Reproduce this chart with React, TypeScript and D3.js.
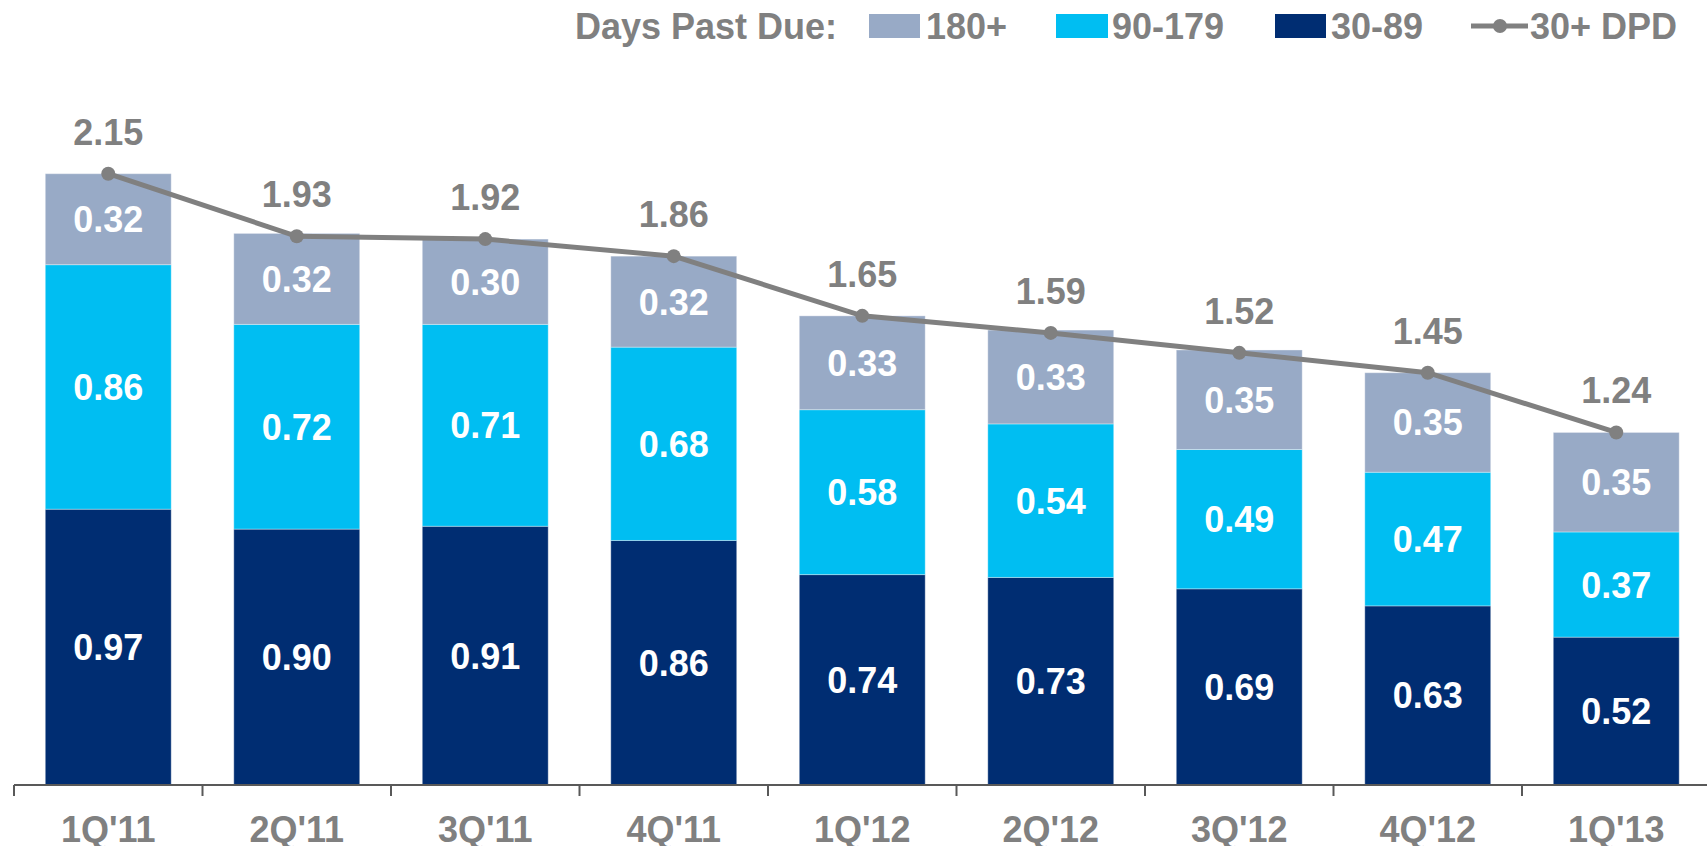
import React from "react";
import * as d3 from "d3";

const categories = ["1Q'11", "2Q'11", "3Q'11", "4Q'11", "1Q'12", "2Q'12", "3Q'12", "4Q'12", "1Q'13"];
const dpd30to89 = [0.97, 0.9, 0.91, 0.86, 0.74, 0.73, 0.69, 0.63, 0.52];
const dpd90to179 = [0.86, 0.72, 0.71, 0.68, 0.58, 0.54, 0.49, 0.47, 0.37];
const dpd180plus = [0.32, 0.32, 0.3, 0.32, 0.33, 0.33, 0.35, 0.35, 0.35];
const dpd30plus = [2.15, 1.93, 1.92, 1.86, 1.65, 1.59, 1.52, 1.45, 1.24];

const seriesKeys = ["30-89", "90-179", "180+"];
const seriesColors: Record<string, string> = {
  "30-89": "#002D72",
  "90-179": "#00BEF2",
  "180+": "#98AAC6",
};
const lineColor = "#808080";
const textGray = "#808080";
const FONT = "'Liberation Sans', Arial, sans-serif";

export default function App() {
  const W = 1707;
  const H = 846;
  const x0 = 14;
  const bandW = 188.5;
  const baseY = 785;

  const x = d3
    .scaleBand<string>()
    .domain(categories)
    .range([x0, x0 + bandW * categories.length])
    .paddingInner(0.332)
    .paddingOuter(0.166);

  const y = d3.scaleLinear().domain([0, 2.15]).range([baseY, 173.7]);

  const rows = categories.map((c, i) => ({
    cat: c,
    "30-89": dpd30to89[i],
    "90-179": dpd90to179[i],
    "180+": dpd180plus[i],
  }));
  const stack = d3.stack<any>().keys(seriesKeys)(rows);

  const cx = (c: string) => (x(c) as number) + x.bandwidth() / 2;
  const linePath = d3
    .line<number>()
    .x((_, i) => cx(categories[i]))
    .y((d) => y(d))(dpd30plus);

  const fs = 36;

  return (
    <svg
      width={W}
      height={H}
      style={{ position: "absolute", left: 0, top: 0, background: "#fff" }}
      fontFamily={FONT}
      fontWeight="bold"
    >
      {/* bars */}
      {stack.map((s) => (
        <g key={s.key} fill={seriesColors[s.key]}>
          {s.map((d, i) => (
            <rect
              key={i}
              x={x(categories[i])}
              y={y(d[1])}
              width={x.bandwidth()}
              height={y(d[0]) - y(d[1])}
              stroke="#ffffff"
              strokeOpacity={0.35}
              strokeWidth={1}
            />
          ))}
        </g>
      ))}
      {/* segment labels */}
      {stack.map((s) => (
        <g key={"l" + s.key} fill="#ffffff" fontSize={fs} textAnchor="middle">
          {s.map((d, i) => (
            <text key={i} x={cx(categories[i])} y={(y(d[0]) + y(d[1])) / 2 + 13}>
              {(d[1] - d[0]).toFixed(2)}
            </text>
          ))}
        </g>
      ))}
      {/* axis */}
      <line x1={x0} x2={W} y1={baseY} y2={baseY} stroke="#595959" strokeWidth={2} />
      {d3.range(categories.length + 1).map((i) => (
        <line
          key={i}
          x1={x0 + i * bandW}
          x2={x0 + i * bandW}
          y1={baseY}
          y2={baseY + 11}
          stroke="#595959"
          strokeWidth={2}
        />
      ))}
      {categories.map((c) => (
        <text key={c} x={cx(c)} y={842} fill={textGray} fontSize={fs} textAnchor="middle">
          {c}
        </text>
      ))}
      {/* line */}
      <path d={linePath || ""} fill="none" stroke={lineColor} strokeWidth={5} />
      {dpd30plus.map((v, i) => (
        <circle key={i} cx={cx(categories[i])} cy={y(v)} r={7} fill={lineColor} />
      ))}
      {dpd30plus.map((v, i) => (
        <text
          key={"t" + i}
          x={cx(categories[i])}
          y={y(v) - 29}
          fill={textGray}
          fontSize={fs}
          textAnchor="middle"
        >
          {v.toFixed(2)}
        </text>
      ))}
      {/* legend */}
      <g fontSize={fs} fill={textGray}>
        <text x={837} y={39} textAnchor="end">Days Past Due:</text>
        <rect x={869} y={14} width={51} height={24} fill={seriesColors["180+"]} />
        <text x={926} y={39}>180+</text>
        <rect x={1056} y={14} width={52} height={24} fill={seriesColors["90-179"]} />
        <text x={1112} y={39}>90-179</text>
        <rect x={1275} y={14} width={51} height={24} fill={seriesColors["30-89"]} />
        <text x={1331} y={39}>30-89</text>
        <line x1={1471} x2={1528} y1={26} y2={26} stroke={lineColor} strokeWidth={5} />
        <circle cx={1500} cy={26} r={7} fill={lineColor} />
        <text x={1530} y={39}>30+ DPD</text>
      </g>
    </svg>
  );
}
